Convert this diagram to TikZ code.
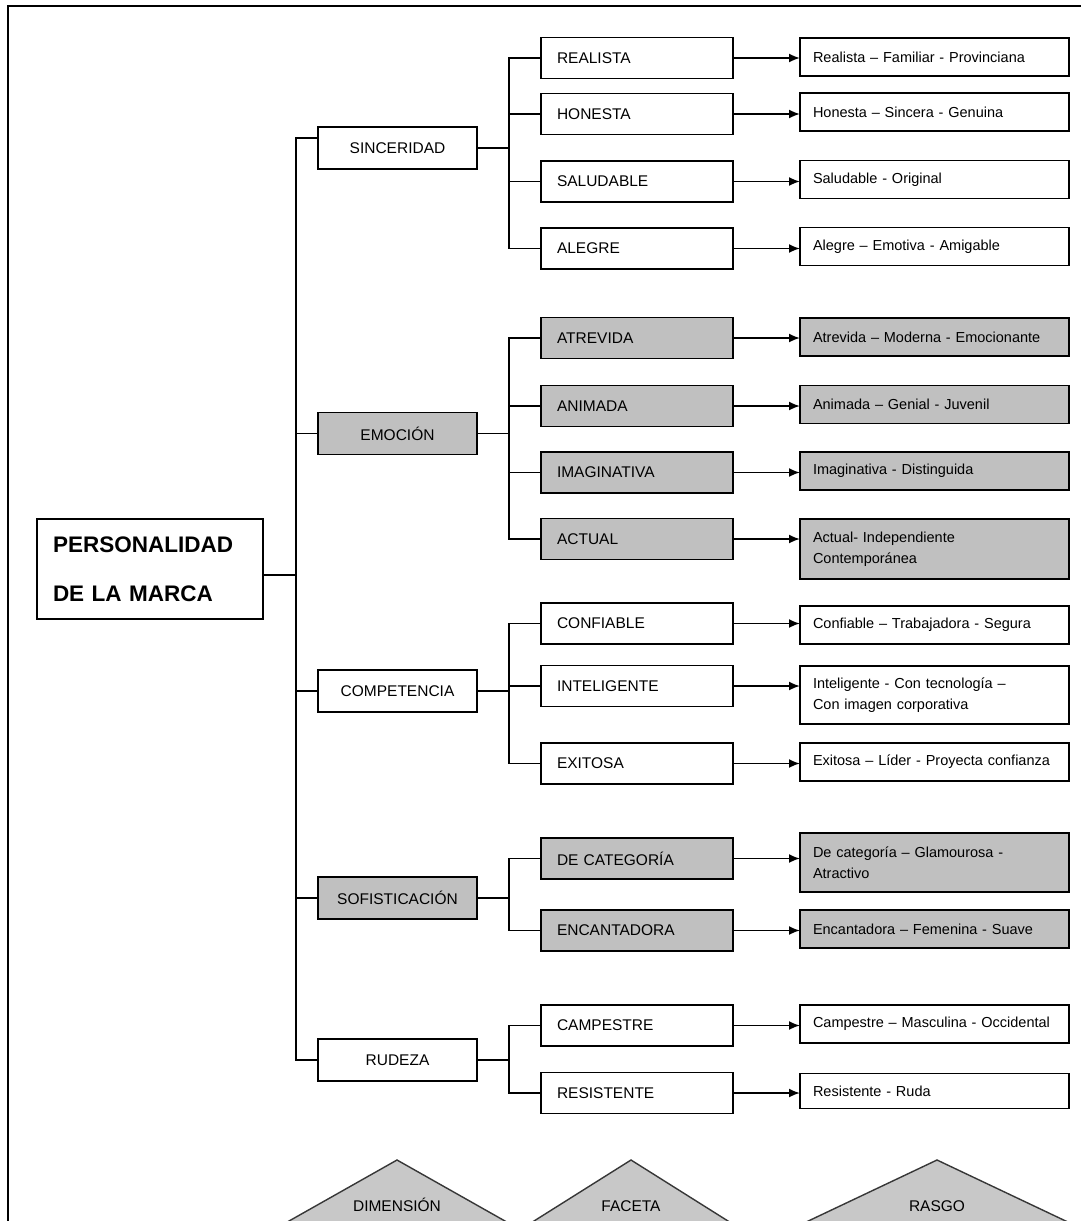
\documentclass[tikz,border=0pt]{standalone}
\usepackage{fontspec}
\setmainfont{Liberation Sans}
\usetikzlibrary{arrows.meta,calc}
\definecolor{boxgray}{RGB}{192,192,192}
\definecolor{tagray}{RGB}{200,200,200}
\definecolor{edgegray}{RGB}{55,55,55}

\begin{document}
\begin{tikzpicture}[x=1pt,y=-1pt,
  every node/.style={inner sep=0pt, outer sep=0pt},
  boxline/.style={draw=black, line width=1.8pt},
  rootbox/.style={boxline, minimum width=226pt, minimum height=100pt, text width=194pt,
    inner xsep=16pt, align=left, font=\fontsize{22.5}{49}\selectfont\bfseries},
  dimbox/.style={boxline, minimum width=159pt, minimum height=42pt, align=center,
    font=\fontsize{15.5}{18}\selectfont},
  facbox/.style={boxline, minimum width=192pt, minimum height=41pt, text width=160pt,
    inner xsep=16pt, align=left, font=\fontsize{15.5}{18}\selectfont},
  trbox/.style={boxline, minimum width=269pt, minimum height=38pt, text width=243pt,
    inner xsep=13pt, align=left, font=\fontsize{14.5}{21}\selectfont},
  shaded/.style={fill=boxgray},
  link/.style={line width=1.8pt},
  arr/.style={link, -{Latex[length=11pt,width=9pt]}},
  tri/.style={fill=tagray, draw=edgegray, line width=1.4pt, line join=miter},
  trilabel/.style={anchor=base, font=\fontsize{15.5}{18}\selectfont}
]
\useasboundingbox (0,0) rectangle (1081,1221);
\fill[white] (0,0) rectangle (1081,1221);
\clip (0,0) rectangle (1081,1221);

% outer frame (open to the right and bottom)
\draw[line width=2pt] (1090,6) -- (8,6) -- (8,1230);

% root
\node[rootbox] (root) at (150,569) {PERSONALIDAD\\DE LA MARCA};

% dimensions
\node[dimbox] (sinc) at (397.5,148) {SINCERIDAD};
\node[dimbox,shaded] (emoc) at (397.5,433.5) {EMOCIÓN};
\node[dimbox] (comp) at (397.5,691) {COMPETENCIA};
\node[dimbox,shaded] (sofi) at (397.5,898) {SOFISTICACIÓN};
\node[dimbox] (rude) at (397.5,1060) {RUDEZA};

% facets
\node[facbox] (f-real) at (637,58) {REALISTA};
\node[facbox] (f-hone) at (637,114) {HONESTA};
\node[facbox] (f-salu) at (637,181.5) {SALUDABLE};
\node[facbox] (f-aleg) at (637,248.5) {ALEGRE};
\node[facbox,shaded] (f-atre) at (637,338) {ATREVIDA};
\node[facbox,shaded] (f-anim) at (637,406) {ANIMADA};
\node[facbox,shaded] (f-imag) at (637,472.5) {IMAGINATIVA};
\node[facbox,shaded] (f-actu) at (637,539) {ACTUAL};
\node[facbox] (f-conf) at (637,623.5) {CONFIABLE};
\node[facbox] (f-inte) at (637,686) {INTELIGENTE};
\node[facbox] (f-exit) at (637,763.5) {EXITOSA};
\node[facbox,shaded] (f-deca) at (637,858.5) {DE CATEGORÍA};
\node[facbox,shaded] (f-enca) at (637,930.5) {ENCANTADORA};
\node[facbox] (f-camp) at (637,1025.5) {CAMPESTRE};
\node[facbox] (f-resi) at (637,1093) {RESISTENTE};

% traits
\node[trbox] (t-real) at (934.5,57) {Realista – Familiar - Provinciana};
\node[trbox] (t-hone) at (934.5,112) {Honesta – Sincera - Genuina};
\node[trbox] (t-salu) at (934.5,179.5) {Saludable - Original};
\node[trbox] (t-aleg) at (934.5,246.5) {Alegre – Emotiva - Amigable};
\node[trbox,shaded] (t-atre) at (934.5,337) {Atrevida – Moderna - Emocionante};
\node[trbox,shaded] (t-anim) at (934.5,404.5) {Animada – Genial - Juvenil};
\node[trbox,shaded] (t-imag) at (934.5,471) {Imaginativa - Distinguida};
\node[trbox,shaded,minimum height=60pt] (t-actu) at (934.5,549) {Actual- Independiente\\Contemporánea};
\node[trbox] (t-conf) at (934.5,625) {Confiable – Trabajadora - Segura};
\node[trbox,minimum height=58pt] (t-inte) at (934.5,695) {Inteligente - Con tecnología –\\Con imagen corporativa};
\node[trbox] (t-exit) at (934.5,762) {Exitosa – Líder - Proyecta confianza};
\node[trbox,shaded,minimum height=59pt] (t-deca) at (934.5,862.5) {De categoría – Glamourosa -\\Atractivo};
\node[trbox,shaded] (t-enca) at (934.5,929) {Encantadora – Femenina - Suave};
\node[trbox] (t-camp) at (934.5,1024) {Campestre – Masculina - Occidental};
\node[trbox,minimum height=35pt] (t-resi) at (934.5,1091) {Resistente - Ruda};

% trunk from the root to the dimensions
\coordinate (trunk) at (296,0);
\coordinate (bus) at (509,0);
\coordinate (rootout) at ([yshift=-6pt]root.east);
\coordinate (sincin) at ([yshift=10pt]sinc.west);
\draw[link] (rootout) -- (trunk |- rootout);
\draw[link] (sincin) -| (trunk |- rude.west) -- (rude.west);
\foreach \d in {emoc,comp,sofi}
  \draw[link] (trunk |- \d.west) -- (\d.west);

% buses from each dimension to its facets
\draw[link] (f-real.west) -| (bus |- f-aleg.west) -- (f-aleg.west);
\draw[link] (sinc.east) -- (bus |- sinc.east);
\foreach \f in {f-hone,f-salu}
  \draw[link] (bus |- \f.west) -- (\f.west);

\draw[link] (f-atre.west) -| (bus |- f-actu.west) -- (f-actu.west);
\draw[link] (emoc.east) -- (bus |- emoc.east);
\foreach \f in {f-anim,f-imag}
  \draw[link] (bus |- \f.west) -- (\f.west);

\draw[link] (f-conf.west) -| (bus |- f-exit.west) -- (f-exit.west);
\draw[link] (comp.east) -- (bus |- comp.east);
\draw[link] (bus |- f-inte.west) -- (f-inte.west);

\draw[link] (f-deca.west) -| (bus |- f-enca.west) -- (f-enca.west);
\draw[link] (sofi.east) -- (bus |- sofi.east);

\draw[link] (f-camp.west) -| (bus |- f-resi.west) -- (f-resi.west);
\draw[link] (rude.east) -- (bus |- rude.east);

% arrows from facets to traits
\foreach \k in {real,hone,salu,aleg,atre,anim,imag,actu,conf,inte,exit,deca,enca,camp,resi}
  \draw[arr] (f-\k.east) -- (f-\k.east -| t-\k.west);

% level markers at the foot
\draw[tri] (397,1160) -- ++(177,100) -- ++(-354,0) -- cycle;
\draw[tri] (631,1160) -- ++(159,100) -- ++(-318,0) -- cycle;
\draw[tri] (937,1160) -- ++(211,100) -- ++(-422,0) -- cycle;
\node[trilabel] (l-dim) at (397,1211) {DIMENSIÓN};
\node[trilabel] (l-fac) at (631,1211) {FACETA};
\node[trilabel] (l-ras) at (937,1211) {RASGO};
\end{tikzpicture}
\end{document}
